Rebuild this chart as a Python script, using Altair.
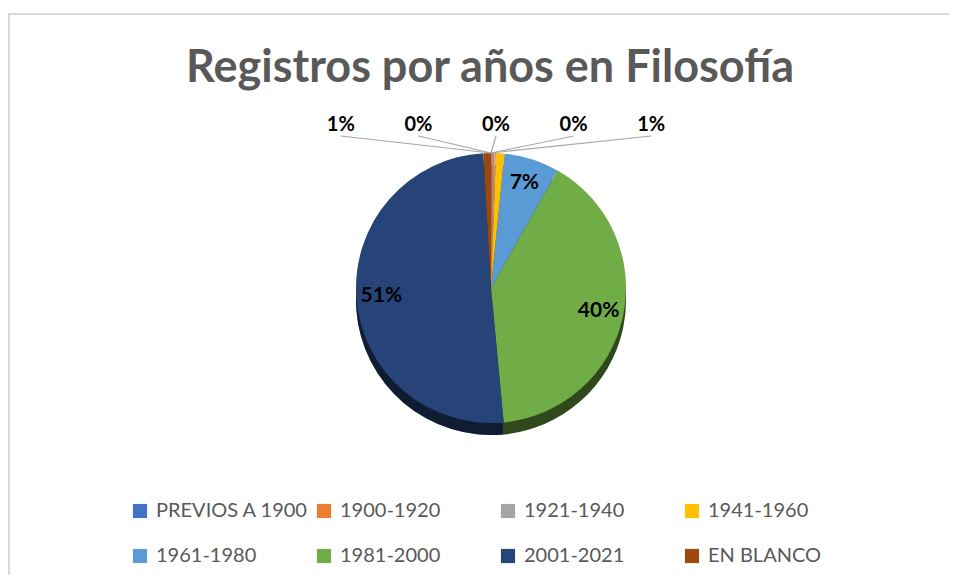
import altair as alt
import pandas as pd

# ---- data ----
titulo = "Registros por años en Filosofía"
categorias = ["PREVIOS A 1900", "1900-1920", "1921-1940", "1941-1960",
              "1961-1980", "1981-2000", "2001-2021", "EN BLANCO"]
porcentajes = [0.1, 0.3, 0.2, 1.0, 6.6, 40.3, 50.6, 0.9]
colores = ["#4472C4", "#ED7D31", "#A5A5A5", "#FFC000",
           "#5B9BD5", "#70AD47", "#264478", "#9E480E"]
# order of the small-slice labels drawn outside, left to right
orden_ext = ["EN BLANCO", "PREVIOS A 1900", "1900-1920", "1921-1940", "1941-1960"]

df = pd.DataFrame({
    "categoria": categorias,
    "valor": porcentajes,
    "orden": list(range(len(categorias))),
})

# ---- layout ----
W, H = 941, 567
CX, CY, R, DEPTH = 483, 280, 135, 12
FONT = "Lato"

color = alt.Color(
    "categoria:N",
    scale=alt.Scale(domain=categorias, range=colores),
    legend=alt.Legend(
        title=None, orient="none", legendX=122, legendY=493,
        columns=4, direction="horizontal", gridAlign="all",
        symbolType="square", symbolSize=200, symbolStrokeWidth=0,
        labelFont=FONT, labelFontSize=20, labelColor="#595959",
        labelOffset=6, labelLimit=300, columnPadding=5, rowPadding=25,
    ),
)

base = alt.Chart(df).transform_joinaggregate(
    total="sum(valor)"
).transform_calculate(
    pct="datum.valor / datum.total",
    etiqueta="format(datum.valor / datum.total, '.0%')",
    etiqueta_in="datum.valor / datum.total >= 0.05 ? format(datum.valor / datum.total, '.0%') : ''",
).encode(
    theta=alt.Theta("valor:Q", stack=True),
    order=alt.Order("orden:Q"),
)

# 3D-like side of the pie
lado = base.mark_arc(radius=R).encode(
    color=color, x=alt.value(CX), y=alt.value(CY + DEPTH))
sombra = base.mark_arc(radius=R, color="black", opacity=0.58).encode(
    x=alt.value(CX), y=alt.value(CY + DEPTH))
# top face
cara = base.mark_arc(radius=R).encode(
    color=color, x=alt.value(CX), y=alt.value(CY))

# inside labels
txt_in = base.mark_text(radius=110, font=FONT, fontSize=21, fontWeight="bold",
                        color="black").encode(
    text="etiqueta_in:N", x=alt.value(CX), y=alt.value(CY))

# outside labels for the small slices
ext = alt.Chart(df).transform_joinaggregate(
    total="sum(valor)"
).transform_calculate(
    etiqueta="format(datum.valor / datum.total, '.0%')"
).transform_filter(
    "datum.valor / datum.total < 0.05"
)
xext = alt.X("categoria:N", scale=alt.Scale(domain=orden_ext, range=[294, 682], padding=0),
             axis=None)
lineas = ext.mark_rule(color="#a6a6a6", strokeWidth=1.2).encode(
    x=xext, y=alt.value(128), x2=alt.value(CX), y2=alt.value(CY - R))
txt_ext = ext.mark_text(font=FONT, fontSize=20, fontWeight="bold", color="black").encode(
    x=xext, y=alt.value(117), text="etiqueta:N")

# title
tit = alt.Chart(pd.DataFrame({"t": [titulo]})).mark_text(
    font=FONT, fontSize=45, fontWeight="bold", color="#595959", baseline="alphabetic"
).encode(text="t:N", x=alt.value(482), y=alt.value(74))

# chart frame (top and left edges visible in the reference)
marco = alt.Chart(pd.DataFrame({"k": [0]}))
borde_sup = marco.mark_rule(color="#d9d9d9", strokeWidth=2).encode(
    x=alt.value(0), x2=alt.value(W), y=alt.value(6))
borde_izq = marco.mark_rule(color="#d9d9d9", strokeWidth=2).encode(
    x=alt.value(1), y=alt.value(6), y2=alt.value(H))

chart = alt.layer(
    borde_sup, borde_izq, lado, sombra, cara, txt_in, lineas, txt_ext, tit
).properties(
    width=W, height=H, autosize=alt.AutoSizeParams(type="none"), padding=0,
    background="white",
).configure_view(stroke=None)

chart.save("out.html", embed_options={"renderer": "svg", "actions": False})
